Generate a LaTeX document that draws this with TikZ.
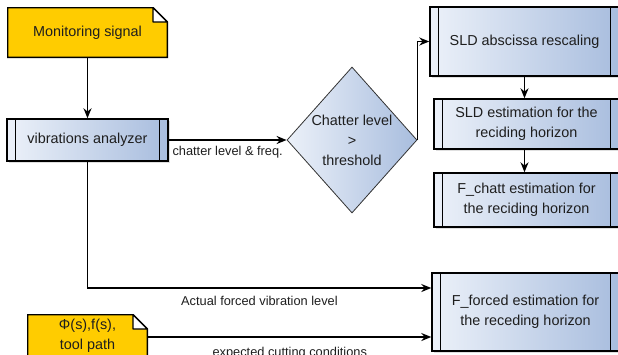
\documentclass[tikz,border=0pt]{standalone}
\usepackage{fontspec}
\setmainfont{Liberation Sans}
\usepackage{xcolor}
\usetikzlibrary{positioning, shapes.geometric, arrows.meta, shadows}
\definecolor{noteyellow}{RGB}{255,204,0}
\definecolor{boxlight}{RGB}{236,241,249}
\definecolor{boxdark}{RGB}{168,189,222}
\definecolor{textgray}{RGB}{30,30,30}
\newcommand{\mainsize}{\fontsize{14.4}{20}\selectfont}
\newcommand{\edgesize}{\fontsize{12.8}{15}\selectfont}

\begin{document}
\begin{tikzpicture}[x=1pt, y=-1pt,
    % Node styles
    note/.style={rectangle, minimum width=121pt, minimum height=44pt, inner sep=2pt, align=center, text=textgray, font=\mainsize,
        path picture={
            \path[fill=noteyellow, draw=black, line width=1.3pt]
                ([shift={(0.65pt,0.65pt)}]path picture bounding box.south west)
                -- ([shift={(0.65pt,-0.65pt)}]path picture bounding box.north west)
                -- ([shift={(-15pt,-0.65pt)}]path picture bounding box.north east)
                -- ([shift={(-0.65pt,-15pt)}]path picture bounding box.north east)
                -- ([shift={(-0.65pt,0.65pt)}]path picture bounding box.south east) -- cycle;
            \path[fill=white, draw=black, line width=1.3pt, line join=bevel]
                ([shift={(-15pt,-0.65pt)}]path picture bounding box.north east)
                -- ([shift={(-15pt,-15pt)}]path picture bounding box.north east)
                -- ([shift={(-0.65pt,-15pt)}]path picture bounding box.north east) -- cycle;}},
    process/.style={rectangle, draw=black, line width=1.4pt, left color=boxlight, right color=boxdark, align=center, text=textgray, font=\mainsize,
        drop shadow={shadow xshift=1.5pt, shadow yshift=-1.5pt, opacity=0.25},
        path picture={
            \draw[line width=1.1pt] ([xshift=8.5pt]path picture bounding box.north west) -- ([xshift=8.5pt]path picture bounding box.south west);
            \draw[line width=1.1pt] ([xshift=-8.5pt]path picture bounding box.north east) -- ([xshift=-8.5pt]path picture bounding box.south east);}},
    decision/.style={diamond, draw=black!80, line width=0.8pt, left color=boxlight, right color=boxdark, aspect=0.89, inner sep=0pt,
        minimum width=130pt, minimum height=146pt, align=center, text=textgray, font=\mainsize},
    % Edge styles
    edge/.style={draw=black, line width=1.5pt, -{Stealth[length=10pt, width=8pt]}},
    edgelabel/.style={text=textgray, font=\edgesize, inner sep=3pt, yshift=-4pt}
]
\path[use as bounding box, clip] (0,0) rectangle (618,354);

% Left column
\node[note, minimum width=161pt, minimum height=51pt] (mon) at (87.5,32.5) {Monitoring signal};
\node[process, minimum width=161pt, minimum height=42pt] (vib) at (87.5,140) {vibrations analyzer};
\node[note] (phi) at (87.5,336) {Φ(s),f(s),\\tool path};

% Decision
\node[decision] (chk) at (352,140) {Chatter level\\>\\threshold};

% Right column
\node[process, minimum width=189pt, minimum height=69pt] (absc) at (524.5,41.5) {SLD abscissa rescaling};
\node[process, minimum width=185pt, minimum height=50pt] (sldest) at (526.5,124) {SLD estimation for the\\reciding horizon};
\node[process, minimum width=185pt, minimum height=54pt] (fchatt) at (526.5,200) {F\_chatt estimation for\\the reciding horizon};
\node[process, minimum width=187pt, minimum height=78pt] (fforced) at (525.5,312) {F\_forced estimation for\\the receding horizon};

% Draw all edges
\draw[edge] (mon) -- (vib);
\draw[edge] (vib) -- node[edgelabel, below, yshift=2pt] {chatter level \& freq.} (chk);
\draw[edge] (chk.east) |- (absc.west);
\draw[edge] (absc.south) -- (absc.south |- sldest.north);
\draw[edge] (absc.south |- sldest.south) -- (absc.south |- fchatt.north);
\draw[edge] (vib) |- node[edgelabel, pos=0.75, below] {Actual forced vibration level} ([yshift=24pt]fforced.west);
\draw[edge] (phi.east |- fforced.west) ++(0,25) -- node[edgelabel, below, yshift=-2pt] {expected cutting conditions} ([yshift=-25pt]fforced.west);

\end{tikzpicture}
\end{document}
